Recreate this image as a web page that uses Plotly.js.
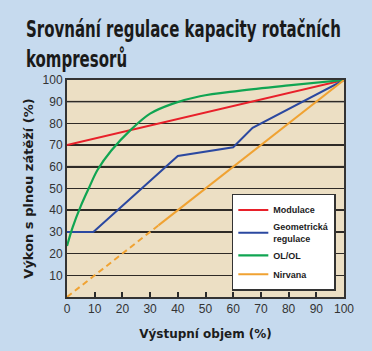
<!DOCTYPE html>
<html>
<head>
<meta charset="utf-8">
<script src="https://cdn.plot.ly/plotly-3.0.1.min.js"></script>
<style>html,body{margin:0;padding:0;background:#c6daee;}#chart{width:372px;height:351px;}</style>
</head>
<body>
<div id="chart"></div>
<script>
// Data
var modX = [0, 100];
var modY = [70, 100];

var geoX = [0, 9.5, 40, 60, 67, 100];
var geoY = [30, 30, 65, 69, 78, 100];

var olX = [0, 2, 5, 8, 11, 16, 23, 30, 38, 48, 62, 80, 100];
var olY = [23.5, 32, 42, 50.5, 58.5, 67.5, 77, 84.5, 89, 92.5, 95, 97.5, 100];

var nirDashX = [0, 33];
var nirDashY = [0, 33];
var nirX = [33, 100];
var nirY = [33, 100];

var xTicks = [0, 10, 20, 30, 40, 50, 60, 70, 80, 90, 100];
var yTicks = [10, 20, 30, 40, 50, 60, 70, 80, 90, 100];
var grayGrid = [30, 60, 90];

var names = ['Modulace', 'Geometrická<br>regulace', 'OL/OL', 'Nirvana'];
var colors = ['#e8202a', '#2b48a0', '#10a552', '#f0a232'];

var cond = '"DejaVu Sans Condensed", "Liberation Sans", Arial, sans-serif';
var sans = '"Liberation Sans", Arial, sans-serif';

var traces = [
  {x: modX, y: modY, name: names[0], mode: 'lines', line: {color: colors[0], width: 2}},
  {x: geoX, y: geoY, name: names[1], mode: 'lines', line: {color: colors[1], width: 2}},
  {x: olX, y: olY, name: names[2], mode: 'lines', line: {color: colors[2], width: 2.2, shape: 'spline', smoothing: 1}},
  {x: nirX, y: nirY, name: names[3], mode: 'lines', line: {color: colors[3], width: 2}},
  {x: nirDashX, y: nirDashY, name: names[3], showlegend: false, mode: 'lines', line: {color: colors[3], width: 2, dash: '6px,4px'}}
];

var shapes = grayGrid.map(function (v) {
  return {type: 'line', xref: 'paper', x0: 0, x1: 1, yref: 'y', y0: v, y1: v,
          line: {color: '#8a8680', width: 2}, layer: 'between'};
});

var layout = {
  width: 372, height: 351,
  margin: {l: 67, r: 28, t: 80, b: 54},
  paper_bgcolor: '#c6daee',
  plot_bgcolor: '#ecdfc4',
  showlegend: true,
  title: {
    text: 'Srovnání regulace kapacity rotačních<br>kompresorů',
    font: {family: cond, size: 23, color: '#1a1a1a', weight: 'bold'},
    xref: 'container', yref: 'container', x: 0.07, xanchor: 'left', y: 0.894, yanchor: 'top'
  },
  xaxis: {
    range: [0, 100], tickvals: xTicks, ticktext: xTicks.map(String),
    showgrid: false, zeroline: false,
    ticks: 'inside', ticklen: 5, tickwidth: 2, tickcolor: '#2a2a2a',
    showline: true, linecolor: '#333', linewidth: 2, mirror: true,
    tickfont: {family: sans, size: 12, color: '#333'},
    title: {text: 'Výstupní objem (%)', font: {family: 'DejaVu Sans, sans-serif', size: 12, color: '#1c1c1c', weight: 'bold'}, standoff: 14}
  },
  yaxis: {
    range: [0, 100], tickvals: yTicks, ticktext: yTicks.map(String),
    showgrid: true, gridcolor: '#2e2a26', gridwidth: 1.5, zeroline: false,
    ticks: '', showline: true, linecolor: '#333', linewidth: 2, mirror: true,
    tickfont: {family: sans, size: 12, color: '#333'},
    title: {text: 'Výkon s plnou zátěží (%)', font: {family: 'DejaVu Sans, sans-serif', size: 13, color: '#1c1c1c', weight: 'bold'}, standoff: 6}
  },
  legend: {
    x: 0.595, y: 0.475, xanchor: 'left', yanchor: 'top',
    bgcolor: '#ffffff', bordercolor: '#333', borderwidth: 1.5,
    font: {family: sans, size: 9, color: '#1c1c1c', weight: 'bold'},
    itemwidth: 30, tracegroupgap: 0
  },
  shapes: shapes
};

Plotly.newPlot('chart', traces, layout, {displayModeBar: false, staticPlot: true}).then(function (gd) {
  // squeeze the title horizontally to mimic the condensed headline face
  var t = gd.querySelector('.gtitle');
  if (t) {
    var bb = t.getBBox();
    var target = 315;
    if (bb.width > target) {
      var s = target / bb.width;
      var x0 = bb.x;
      var prev = t.getAttribute('transform') || '';
      t.setAttribute('transform', prev + ' translate(' + x0 + ',0) scale(' + s + ',1) translate(' + (-x0) + ',0)');
    }
  }
});
</script>
</body>
</html>
